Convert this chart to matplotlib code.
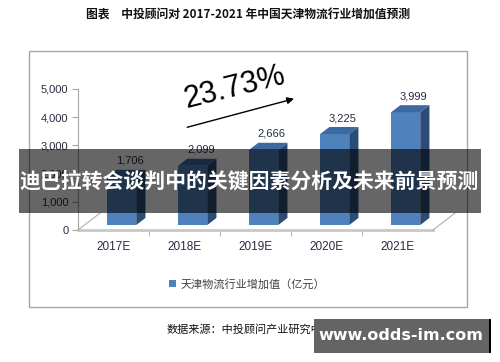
import matplotlib
matplotlib.use("Agg")
import matplotlib.pyplot as plt
from matplotlib.patches import Polygon, Rectangle, Patch
import numpy as np

plt.rcParams['font.family'] = ['Liberation Sans', 'Noto Sans CJK SC', 'DejaVu Sans']

# Datos del gráfico
years = ["2017E", "2018E", "2019E", "2020E", "2021E"]
values = [1706, 2099, 2666, 3225, 3999]
value_labels = ["1,706", "2,099", "2,666", "3,225", "3,999"]
y_ticks = [0, 1000, 2000, 3000, 4000, 5000]
y_tick_labels = ["0", "1,000", "2,000", "3,000", "4,000", "5,000"]
growth = "23.73%"
legend_label = "天津物流行业增加值（亿元）"
title = "图表　中投顾问对 2017-2021 年中国天津物流行业增加值预测"
source = "数据来源：中投顾问产业研究中心"
overlay_text = "迪巴拉转会谈判中的关键因素分析及未来前景预测"
watermark = "www.odds-im.com"

W, H = 500, 362
fig = plt.figure(figsize=(5, 3.62), dpi=100)
fig.patch.set_facecolor("white")

def fx(px):
    return px / W

def fy(py):
    return 1 - py / H

# Marco exterior
fig.patches.append(Rectangle((fx(29), fy(307)), fx(467) - fx(29), fy(51) - fy(307),
                             transform=fig.transFigure, fill=False, edgecolor="#a6a6a6", lw=1))

ax = fig.add_axes([fx(78), fy(230), fx(433) - fx(78), fy(89) - fy(230)])
ax.set_xlim(-0.5, len(years) - 0.5)
ax.set_ylim(0, 5000)
ax.patch.set_alpha(0)

# Efecto 3D
base = 177          # desplazamiento de la base de la barra (profundidad)
x0_off, x1_off = -0.09, 0.32
ddx, ddy = 0.13, 250
front_c = "#4F81BD"
top_c = "#3D69A2"
side_c = "#2C4C78"

x = np.arange(len(years))
ax.bar(x + (x0_off + x1_off) / 2, values, width=x1_off - x0_off, bottom=base,
       color=front_c, edgecolor="none", zorder=3)
for xi, v, lab in zip(x, values, value_labels):
    xa, xb = xi + x0_off, xi + x1_off
    top = base + v
    ax.add_patch(Polygon([(xa, top), (xb, top), (xb + ddx, top + ddy), (xa + ddx, top + ddy)],
                         closed=True, facecolor=top_c, edgecolor="none", zorder=3))
    ax.add_patch(Polygon([(xb, base), (xb + ddx, base + ddy), (xb + ddx, top + ddy), (xb, top)],
                         closed=True, facecolor=side_c, edgecolor="none", zorder=3))
    ax.text(xi + 0.23, top + 390, lab, ha="center", va="bottom", fontsize=8, color="#2a2a44")

# Suelo
fl_dx, fl_dy = 0.31, 600
ax.plot([-0.5, 4.5], [0, 0], color="#c8c8c8", lw=2, clip_on=False, zorder=2)
ax.plot([-0.5, -0.5 + fl_dx], [0, fl_dy], color="#b0b0b0", lw=0.8, clip_on=False, zorder=2)
ax.plot([4.5, 4.5 + fl_dx], [0, fl_dy], color="#b0b0b0", lw=0.8, clip_on=False, zorder=2)

for s in ["top", "right", "bottom"]:
    ax.spines[s].set_visible(False)
ax.spines["left"].set_color("#a6a6a6")
ax.set_yticks(y_ticks)
ax.set_yticklabels(y_tick_labels, fontsize=8, color="#2a2a44")
ax.tick_params(axis="y", length=4, color="#a6a6a6", pad=3)
ax.set_xticks(x)
ax.set_xticklabels(years, fontsize=8.5, color="#2a2a44")
ax.set_xticks(np.arange(0.5, len(years) - 1, 1), minor=True)
ax.tick_params(axis="x", which="major", length=0, pad=8)
ax.tick_params(axis="x", which="minor", length=4, color="#a6a6a6")

# Flecha de crecimiento
ax.annotate("", xy=(2.58, 4680), xytext=(1.0, 3617),
            arrowprops=dict(arrowstyle="-|>", color="black", lw=1, mutation_scale=10),
            annotation_clip=False)
ax.text(1.71, 5035, growth, fontsize=22, rotation=14, ha="center", va="center",
        color="black", clip_on=False)

# Leyenda
ax.legend(handles=[Patch(facecolor=front_c, edgecolor="none")], labels=[legend_label],
          loc="center", bbox_to_anchor=(fx(247), fy(284)), bbox_transform=fig.transFigure,
          frameon=False, fontsize=8, handlelength=0.7, handleheight=0.7, handletextpad=0.4,
          labelcolor="#404040", prop={"family": ["Noto Sans CJK SC"], "size": 8})

# Título y fuente
fig.text(fx(248), fy(15), title, ha="center", va="center", fontsize=8.5, fontweight="bold",
         family=["Noto Sans CJK SC", "DejaVu Sans"], color="#111111")
fig.text(fx(167), fy(330), source, ha="left", va="center", fontsize=8,
         family=["Noto Sans CJK SC", "DejaVu Sans"], color="#111111")

# Franja superpuesta
fig.patches.append(Rectangle((fx(19), fy(213)), fx(481) - fx(19), fy(149) - fy(213),
                             transform=fig.transFigure, facecolor="black", alpha=0.6,
                             edgecolor="none", zorder=10))
fig.text(fx(249), fy(181), overlay_text, ha="center", va="center", fontsize=15,
         fontweight="bold", color="white", family=["Noto Sans CJK SC"], zorder=11)

# Marca de agua
fig.patches.append(Rectangle((fx(314), fy(353)), fx(490) - fx(314), fy(319) - fy(353),
                             transform=fig.transFigure, facecolor="#646464",
                             edgecolor="none", zorder=10))
fig.patches.append(Rectangle((fx(489), fy(353)), fx(491) - fx(489), fy(319) - fy(353),
                             transform=fig.transFigure, facecolor="black",
                             edgecolor="none", zorder=10))
fig.text(fx(401), fy(336), watermark, ha="center", va="center", fontsize=11.5,
         fontweight="bold", color="white", family=["DejaVu Sans"], zorder=11)

fig.savefig("out.png", dpi=100)
